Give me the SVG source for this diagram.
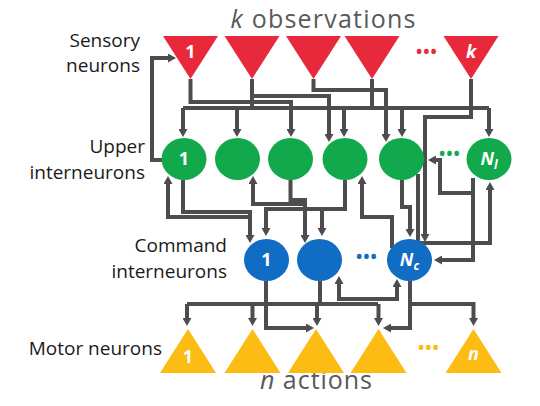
<svg xmlns="http://www.w3.org/2000/svg" width="540" height="406" viewBox="0 0 540 406">
<defs>
<marker id="ah" markerUnits="userSpaceOnUse" markerWidth="8" markerHeight="9" viewBox="0 0 8 9" refX="2" refY="4.5" orient="auto-start-reverse"><path d="M0,0 L8,4.5 L0,9z" fill="#4d4d4f"/></marker>
<style>
.c{fill:none;stroke:#4d4d4f;stroke-width:4;stroke-linejoin:miter}
.a{marker-end:url(#ah)}
.red{fill:#e8293c}.grn{fill:#12a84c}.blu{fill:#116cc3}.yel{fill:#fdbc13}
.lbl{font-family:"Open Sans","Liberation Sans",sans-serif;font-size:19px;fill:#1a1a1a;text-anchor:end}
.ttl{font-family:"Open Sans","Liberation Sans",sans-serif;font-size:25px;fill:#595959;text-anchor:middle}
.in{font-family:"Open Sans","Liberation Sans",sans-serif;font-size:18px;font-weight:bold;fill:#fff;text-anchor:middle}
.dots{font-family:"Open Sans","Liberation Sans",sans-serif;font-size:22px;text-anchor:middle;letter-spacing:-1px}
</style>
</defs>
<rect width="540" height="406" fill="#fff"/>
<g id="labels">
<text class="ttl" x="323" y="28" textLength="185" lengthAdjust="spacing"><tspan font-style="italic">k</tspan> observations</text>
<text class="ttl" x="316" y="389" textLength="112" lengthAdjust="spacing"><tspan font-style="italic">n</tspan> actions</text>
<text class="lbl" x="140" y="47">Sensory</text>
<text class="lbl" x="140" y="72">neurons</text>
<text class="lbl" x="145" y="153">Upper</text>
<text class="lbl" x="145" y="179">interneurons</text>
<text class="lbl" x="227" y="252">Command</text>
<text class="lbl" x="227" y="278">interneurons</text>
<text class="lbl" x="162" y="355">Motor neurons</text>
</g>
<g id="connectors">
<path class="c" d="M183,108 H489"/>
<path class="c" d="M252,79 V108 M372,79 V108"/>
<path class="c a" d="M183,108 V131"/>
<path class="c a" d="M237,108 V131"/>
<path class="c a" d="M344,108 V131"/>
<path class="c a" d="M402,108 V131"/>
<path class="c a" d="M489,108 V131"/>
<path class="c a" d="M190.5,79 V102 H291 V131"/>
<path class="c a" d="M252,79 V96 H329 V136"/>
<path class="c a" d="M313.5,79 V90 H386 V136"/>
<path class="c a" d="M471,79 V117 H425 V236"/>
<path class="c a" d="M162,160 H152 V58 H170"/>
<path class="c a" d="M183,180 V212 H250 V237"/>
<path class="c a" d="M250,217 H168 V182"/>
<path class="c a" d="M290.5,180 V200 H305 V237"/>
<path class="c a" d="M305,204 H253 V182"/>
<path class="c a" d="M345,180 V209 H266 V230"/>
<path class="c a" d="M322,209 V230"/>
<path class="c a" d="M392,248 V217 H362 V182"/>
<path class="c a" d="M402,180 V207 H410 V231"/>
<path class="c a" d="M418,174 V243 H490 V188"/>
<path class="c a" d="M473,178 V193 H440 V160 H434"/>
<path class="c a" d="M473,193 V260 H440"/>
<path class="c" d="M187,304 H378 M320,281 V304"/>
<path class="c a" d="M187,304 V320"/>
<path class="c a" d="M252.5,304 V320"/>
<path class="c a" d="M317,304 V320"/>
<path class="c a" d="M378.5,304 V320"/>
<path class="c a" d="M266,281 V328 H308"/>
<path class="c a" d="M410,281 V328 H389"/>
<path class="c a" d="M410,304 H473.5 V320"/>
<path class="c a" d="M339,282 V299 H397 V285" marker-start="url(#ah)"/>
</g>
<g id="sensory-1"><polygon class="red" points="163,36 218,36 190.5,79"/><text class="in" x="190.5" y="58">1</text></g>
<g id="sensory-2"><polygon class="red" points="224.5,36 279.5,36 252,79"/></g>
<g id="sensory-3"><polygon class="red" points="286,36 341,36 313.5,79"/></g>
<g id="sensory-4"><polygon class="red" points="344.5,36 399.5,36 372,79"/></g>
<g id="sensory-dots"><text class="dots" x="426" y="59" fill="#e8293c">•••</text></g>
<g id="sensory-k"><polygon class="red" points="443.5,36 498.5,36 471,79"/><text class="in" x="471" y="58" font-style="italic">k</text></g>
<g id="upper-1"><ellipse class="grn" cx="184" cy="159" rx="22.5" ry="21"/><text class="in" x="184" y="165">1</text></g>
<g id="upper-2"><ellipse class="grn" cx="237.5" cy="159" rx="22.5" ry="21"/></g>
<g id="upper-3"><ellipse class="grn" cx="290.5" cy="159" rx="22.5" ry="21"/></g>
<g id="upper-4"><ellipse class="grn" cx="345" cy="159" rx="22.5" ry="21"/></g>
<g id="upper-5"><ellipse class="grn" cx="401.5" cy="159" rx="22.5" ry="21"/></g>
<g id="upper-dots"><text class="dots" x="449" y="161" fill="#12a84c">•••</text></g>
<g id="upper-Nl"><ellipse class="grn" cx="489" cy="159" rx="22.5" ry="21"/><text class="in" x="489" y="165" font-style="italic">N<tspan font-size="12" dy="4">l</tspan></text></g>
<g id="command-1"><ellipse class="blu" cx="266.5" cy="260" rx="22.5" ry="21"/><text class="in" x="266.5" y="266">1</text></g>
<g id="command-2"><ellipse class="blu" cx="319.5" cy="260" rx="22.5" ry="21"/></g>
<g id="command-dots"><text class="dots" x="366" y="264" fill="#116cc3">•••</text></g>
<g id="command-Nc"><ellipse class="blu" cx="409.5" cy="260" rx="22.5" ry="21"/><text class="in" x="409.5" y="266" font-style="italic">N<tspan font-size="12" dy="4">c</tspan></text></g>
<g id="motor-1"><polygon class="yel" points="160,373 216,373 188,329"/><text class="in" x="188" y="363">1</text></g>
<g id="motor-2"><polygon class="yel" points="224.5,373 280.5,373 252.5,329"/></g>
<g id="motor-3"><polygon class="yel" points="288,373 344,373 316,329"/></g>
<g id="motor-4"><polygon class="yel" points="350.5,373 406.5,373 378.5,329"/></g>
<g id="motor-dots"><text class="dots" x="428" y="355" fill="#fdbc13">•••</text></g>
<g id="motor-n"><polygon class="yel" points="445.5,373 501.5,373 473.5,329"/><text class="in" x="473.5" y="360" font-style="italic">n</text></g>
</svg>
